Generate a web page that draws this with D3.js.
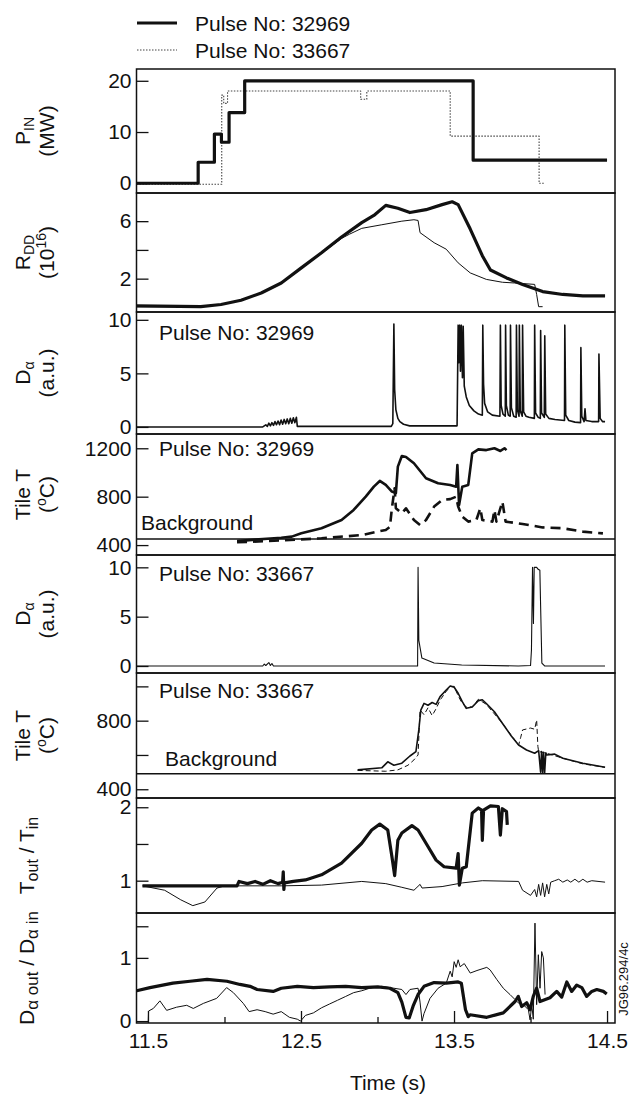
<!DOCTYPE html>
<html lang="en">
<head>
<meta charset="UTF-8">
<title>Pulse 32969 / 33667 time traces</title>
<script src="https://d3js.org/d3.v7.min.js"></script>
<style>
  body { margin: 0; background: #fff; }
  svg text { font-family: "Liberation Sans", Arial, Helvetica, sans-serif; fill: #111; }
</style>
</head>
<body>
<div id="chart"></div>
<script>
// ---- data (time in s, value) ----
const timeTicks = [11.5, 12.5, 13.5, 14.5];
const timeMinorTicks = [12.0, 13.0, 14.0];

const pin32969 = [[11.425,0],[11.828,4.1],[11.934,9.6],[11.98,8.0],[12.03,13.8],[12.132,20],[13.625,4.5],[14.5,4.5]];
const pin33667 = [[11.425,-0.2],[11.982,17.2],[11.995,15.6],[12.02,18.0],[12.89,16.4],[12.93,18.0],[13.475,9.2],[14.056,0],[14.095,0]];

const rdd32969 = [[11.425,0.1],[11.845,0.05],[11.977,0.2],[12.108,0.5],[12.24,1.0],[12.371,1.7],[12.502,2.75],[12.634,3.8],[12.765,4.9],[12.897,5.9],[12.976,6.4],[13.054,7.1],[13.133,6.9],[13.212,6.6],[13.317,6.8],[13.422,7.15],[13.488,7.35],[13.527,7.15],[13.606,5.45],[13.685,3.6],[13.738,2.6],[13.843,2.05],[13.948,1.6],[14.079,1.1],[14.211,0.9],[14.342,0.8],[14.487,0.8]];
const rdd33667 = [[11.425,0.05],[11.845,0.05],[11.977,0.2],[12.108,0.5],[12.24,1.0],[12.371,1.65],[12.502,2.7],[12.634,3.75],[12.765,4.8],[12.818,5.1],[12.897,5.5],[13.028,5.75],[13.159,6.0],[13.238,6.1],[13.265,6.05],[13.278,5.2],[13.37,4.5],[13.449,4.05],[13.527,3.1],[13.606,2.4],[13.711,1.95],[13.816,1.75],[13.895,1.7],[14.027,1.6],[14.04,0.9],[14.053,0.05],[14.079,0.05]];

const da32969 = [[11.425,0],[12.25,0],[12.27,0.2],[12.28,0.05],[12.29,0.35],[12.3,0.1],[12.31,0.4],[12.32,0.15],[12.33,0.5],[12.34,0.2],[12.35,0.55],[12.36,0.2],[12.37,0.65],[12.38,0.25],[12.39,0.7],[12.4,0.3],[12.41,0.75],[12.42,0.3],[12.43,0.8],[12.44,0.35],[12.45,0.85],[12.46,0.4],[12.47,0.9],[12.476,0.05],[13.09,0.05],[13.1,0.3],[13.107,9.6],[13.112,3.5],[13.12,1.6],[13.133,0.8],[13.146,0.5],[13.17,0.25],[13.21,0.1],[13.52,0.1],[13.527,9.5],[13.532,6],[13.537,9.5],[13.542,5.2],[13.548,9.5],[13.555,4.6],[13.56,9.4],[13.567,3.8],[13.58,2.8],[13.6,2.0],[13.63,1.5],[13.66,1.2],[13.685,1.1],[13.688,9.5],[13.693,4],[13.7,2.2],[13.72,1.4],[13.75,1.1],[13.8,1.0],[13.803,9.5],[13.808,2],[13.82,1.2],[13.835,1.0],[13.837,9.5],[13.842,2],[13.855,1.1],[13.867,1.0],[13.869,9.5],[13.875,1.8],[13.89,1.0],[13.906,0.9],[13.908,9.5],[13.914,1.6],[13.925,1.0],[13.927,9.5],[13.933,1.5],[13.946,1.0],[13.948,9.5],[13.955,1.4],[13.97,1.0],[13.99,0.9],[14.025,0.8],[14.027,9.5],[14.033,1.3],[14.05,0.9],[14.064,0.8],[14.066,9.0],[14.072,1.3],[14.09,0.9],[14.093,8.5],[14.099,1.2],[14.12,0.8],[14.16,0.7],[14.222,0.6],[14.224,9.5],[14.23,1.1],[14.25,0.6],[14.29,0.45],[14.327,0.4],[14.329,7.4],[14.335,1.0],[14.35,0.5],[14.356,1.7],[14.362,0.6],[14.4,0.5],[14.445,0.5],[14.447,6.8],[14.455,0.8],[14.47,0.5],[14.487,0.5]];

const tile32969 = [[12.082,433],[12.2,445],[12.3,455],[12.371,460],[12.44,470],[12.502,497],[12.634,539],[12.765,607],[12.844,690],[12.923,800],[12.976,883],[13.015,930],[13.054,897],[13.094,842],[13.12,830],[13.133,1048],[13.159,1136],[13.186,1128],[13.238,1076],[13.317,952],[13.396,911],[13.475,897],[13.514,883],[13.522,1062],[13.533,731],[13.554,883],[13.593,897],[13.619,1158],[13.659,1191],[13.711,1185],[13.764,1200],[13.803,1178],[13.83,1200],[13.843,1185]];
const tileBg32969 = [[12.082,423],[12.371,438],[12.634,456],[12.897,483],[13.054,525],[13.081,550],[13.094,704],[13.112,870],[13.12,704],[13.159,663],[13.186,704],[13.238,607],[13.278,566],[13.317,607],[13.37,718],[13.422,773],[13.475,780],[13.514,800],[13.527,718],[13.554,635],[13.593,594],[13.646,607],[13.672,704],[13.685,607],[13.751,594],[13.764,690],[13.777,594],[13.816,759],[13.837,594],[13.948,574],[14.079,546],[14.211,539],[14.342,511],[14.473,497]];
const bgLevel32969 = 450;

const da33667 = [[11.425,0],[12.25,0],[12.26,0.2],[12.27,0.05],[12.29,0.35],[12.3,0.05],[12.31,0.25],[12.32,0],[13.262,0],[13.265,10],[13.27,2.6],[13.29,0.8],[13.37,0.3],[13.55,0.1],[13.92,0],[14.0,0.05],[14.006,1.6],[14.013,10],[14.019,4.3],[14.024,10],[14.04,10],[14.05,9.8],[14.061,9.7],[14.066,6],[14.074,0.3],[14.092,0],[14.487,0]];

const tile33667 = [[12.87,513],[13.028,525],[13.067,560],[13.107,540],[13.159,552],[13.212,594],[13.251,619],[13.27,746],[13.283,862],[13.304,901],[13.33,890],[13.357,906],[13.383,895],[13.409,940],[13.449,979],[13.475,1002],[13.501,995],[13.527,960],[13.554,911],[13.58,872],[13.619,880],[13.659,917],[13.685,922],[13.711,900],[13.764,852],[13.816,785],[13.869,717],[13.922,658],[13.974,629],[14.027,610],[14.053,625],[14.066,500],[14.072,620],[14.079,497],[14.085,615],[14.092,495],[14.1,612],[14.106,600],[14.158,605],[14.211,581],[14.342,552],[14.487,528]];
const tileBg33667 = [[12.87,510],[13.054,505],[13.133,513],[13.199,540],[13.238,571],[13.265,600],[13.278,862],[13.304,835],[13.33,875],[13.357,830],[13.383,870],[13.409,920],[13.449,970],[13.475,1000],[13.501,1000],[13.527,945],[13.554,900],[13.58,880],[13.619,880],[13.659,925],[13.711,895],[13.816,785],[13.922,658],[13.935,700],[13.948,746],[14.0,757],[14.027,750],[14.04,804],[14.048,650],[14.053,620],[14.106,610],[14.211,581],[14.342,548],[14.487,528]];
const bgLevel33667 = 490;

const tRatio32969 = [[11.464,0.93],[12.082,0.93],[12.095,0.99],[12.15,0.96],[12.2,0.99],[12.25,0.95],[12.3,1.0],[12.35,0.96],[12.38,0.98],[12.384,1.12],[12.388,0.88],[12.392,0.97],[12.45,0.99],[12.529,1.01],[12.634,1.08],[12.765,1.24],[12.897,1.51],[12.962,1.69],[13.015,1.77],[13.067,1.69],[13.094,1.33],[13.112,1.07],[13.133,1.55],[13.159,1.65],[13.225,1.75],[13.265,1.69],[13.317,1.51],[13.383,1.28],[13.435,1.19],[13.514,1.17],[13.527,1.37],[13.535,0.94],[13.554,1.17],[13.58,1.19],[13.619,1.92],[13.659,1.99],[13.68,1.96],[13.685,1.55],[13.693,1.96],[13.738,2.02],[13.79,2.01],[13.803,1.62],[13.816,1.98],[13.843,1.94],[13.848,1.76]];
const tRatio33667 = [[11.464,0.93],[11.609,0.87],[11.714,0.74],[11.793,0.66],[11.872,0.71],[11.951,0.9],[12.003,0.93],[12.371,0.93],[12.634,0.94],[12.897,0.99],[13.054,0.96],[13.159,0.91],[13.238,0.87],[13.278,0.95],[13.291,0.9],[13.422,0.92],[13.554,0.97],[13.685,1.0],[13.922,0.99],[13.948,0.87],[14.0,0.8],[14.027,0.88],[14.04,0.78],[14.053,0.95],[14.066,0.8],[14.079,0.97],[14.092,0.78],[14.106,0.95],[14.119,0.82],[14.132,0.98],[14.158,1.0],[14.184,1.02],[14.211,0.98],[14.24,1.01],[14.263,0.98],[14.29,1.02],[14.316,0.98],[14.342,1.02],[14.37,0.98],[14.4,1.0],[14.487,0.98]];

const daRatio32969 = [[11.426,0.48],[11.513,0.53],[11.663,0.6],[11.775,0.63],[11.886,0.66],[12.016,0.63],[12.101,0.58],[12.167,0.55],[12.213,0.5],[12.318,0.47],[12.371,0.52],[12.476,0.55],[12.581,0.53],[12.686,0.54],[12.792,0.55],[12.897,0.53],[13.002,0.54],[13.081,0.52],[13.133,0.45],[13.159,0.3],[13.186,0.06],[13.207,0.05],[13.233,0.24],[13.265,0.42],[13.304,0.55],[13.37,0.61],[13.449,0.6],[13.527,0.62],[13.548,0.6],[13.575,0.18],[13.593,0.07],[13.605,0.1],[13.714,0.06],[13.822,0.13],[13.899,0.31],[13.92,0.39],[13.942,0.23],[13.975,0.29],[13.997,0.18],[14.018,0.39],[14.04,0.52],[14.062,0.31],[14.127,0.37],[14.171,0.47],[14.204,0.38],[14.237,0.62],[14.269,0.47],[14.302,0.57],[14.335,0.53],[14.367,0.39],[14.4,0.47],[14.433,0.5],[14.476,0.47],[14.498,0.43]];
const daRatio33667 = [[11.502,0],[11.504,0.16],[11.535,0.2],[11.578,0.32],[11.622,0.17],[11.687,0.22],[11.753,0.25],[11.796,0.2],[11.862,0.28],[11.949,0.36],[12.014,0.53],[12.058,0.45],[12.123,0.28],[12.161,0.15],[12.213,0.18],[12.266,0.15],[12.318,0.11],[12.371,0.15],[12.424,0.06],[12.476,0.03],[12.497,0],[12.529,0.09],[12.581,0.13],[12.634,0.21],[12.686,0.27],[12.739,0.33],[12.792,0.39],[12.844,0.45],[12.897,0.48],[12.949,0.52],[13.028,0.55],[13.107,0.52],[13.159,0.5],[13.186,0.42],[13.212,0.5],[13.265,0.52],[13.278,0.3],[13.291,0],[13.304,0.12],[13.343,0.36],[13.396,0.52],[13.449,0.6],[13.475,0.79],[13.488,0.7],[13.501,0.94],[13.514,0.85],[13.527,0.97],[13.54,0.86],[13.567,0.91],[13.606,0.76],[13.65,0.8],[13.714,0.85],[13.736,0.81],[13.779,0.66],[13.822,0.52],[13.866,0.42],[13.899,0.34],[13.92,0.29],[13.953,0.26],[13.986,0.18],[13.997,0.02],[14.008,0.26],[14.018,0.03],[14.029,1.55],[14.04,0.26],[14.051,1.05],[14.062,0.52],[14.073,1.1],[14.084,1.0],[14.095,0.42]];

// ---- layout ----
const W = 631, H = 1098;
const svg = d3.select("#chart").append("svg")
    .attr("width", W)
    .attr("height", H);

const x = d3.scaleLinear().domain([11.425, 14.552]).range([136.5, 615]);

// one entry per stacked panel
const panels = [
    { top: 69,  bottom: 193,  domain: [-1.9, 22.3],  ticks: [0, 10, 20], labels: [0, 10, 20] },
    { top: 193, bottom: 312,  domain: [-0.32, 7.96], ticks: [2, 4, 6], labels: [2, 6] },
    { top: 312, bottom: 434,  domain: [-0.66, 10.73], ticks: [0, 5, 10], labels: [0, 5, 10] },
    { top: 434, bottom: 555,  domain: [318, 1318],   ticks: [400, 800, 1200], labels: [400, 800, 1200] },
    { top: 555, bottom: 673,  domain: [-0.71, 11.25], ticks: [0, 5, 10], labels: [0, 5, 10] },
    { top: 673, bottom: 798,  domain: [349, 1078],   ticks: [400, 600, 800, 1000], labels: [400, 800] },
    { top: 798, bottom: 913,  domain: [0.56, 2.126], ticks: [1, 1.5, 2], labels: [1, 2] },
    { top: 913, bottom: 1023, domain: [-0.03, 1.71], ticks: [0, 1, 1.5], labels: [0, 1] }
];

const defs = svg.append("defs");
panels.forEach((p, i) => {
    p.y = d3.scaleLinear().domain(p.domain).range([p.bottom, p.top]);
    defs.append("clipPath").attr("id", `clip-${i}`)
        .append("rect")
        .attr("x", x.range()[0]).attr("y", p.top)
        .attr("width", x.range()[1] - x.range()[0]).attr("height", p.bottom - p.top);

    // y ticks pointing inward
    const ax = svg.append("g")
        .attr("transform", `translate(${x.range()[0]},0)`)
        .call(d3.axisLeft(p.y)
            .tickValues(p.ticks)
            .tickSizeInner(-12)
            .tickSizeOuter(0)
            .tickPadding(5)
            .tickFormat(d => p.labels.includes(d) ? d : ""));
    ax.select(".domain").remove();
    ax.selectAll("line").attr("stroke", "#111").attr("stroke-width", 1.3);
    ax.selectAll("text").attr("font-size", 21).attr("fill", "#111")
        .style("font-family", "'Liberation Sans', Arial, sans-serif");
});

function drawLine(i, data, opts) {
    const p = panels[i];
    const line = d3.line()
        .x(d => x(d[0]))
        .y(d => p.y(d[1]))
        .curve(opts.step ? d3.curveStepAfter : d3.curveLinear);
    svg.append("path")
        .datum(data)
        .attr("clip-path", `url(#clip-${i})`)
        .attr("d", line)
        .attr("fill", "none")
        .attr("stroke", opts.color || "#111")
        .attr("stroke-width", opts.width)
        .attr("stroke-linejoin", "round")
        .attr("stroke-dasharray", opts.dash || null);
}

function bgLine(i, level) {
    const p = panels[i];
    svg.append("line")
        .attr("x1", x.range()[0]).attr("x2", x.range()[1])
        .attr("y1", p.y(level)).attr("y2", p.y(level))
        .attr("stroke", "#111").attr("stroke-width", 1.4);
}

// P_IN
drawLine(0, pin33667, { width: 1.1, dash: "1.5,1.5", color: "#444", step: true });
drawLine(0, pin32969, { width: 3.2, step: true });
// R_DD
drawLine(1, rdd33667, { width: 1 });
drawLine(1, rdd32969, { width: 3.2 });
// D alpha 32969
drawLine(2, da32969, { width: 1.6 });
// Tile T 32969
bgLine(3, bgLevel32969);
drawLine(3, tileBg32969, { width: 2.6, dash: "10,6" });
drawLine(3, tile32969, { width: 2.6 });
// D alpha 33667
drawLine(4, da33667, { width: 1.1 });
// Tile T 33667
bgLine(5, bgLevel33667);
drawLine(5, tileBg33667, { width: 1, dash: "5,3" });
drawLine(5, tile33667, { width: 1.6 });
// Tout / Tin
drawLine(6, tRatio33667, { width: 1 });
drawLine(6, tRatio32969, { width: 3.2 });
// D alpha out / in
drawLine(7, daRatio33667, { width: 1 });
drawLine(7, daRatio32969, { width: 3.2 });

// panel frames
panels.forEach(p => {
    svg.append("rect")
        .attr("x", x.range()[0]).attr("y", p.top)
        .attr("width", x.range()[1] - x.range()[0]).attr("height", p.bottom - p.top)
        .attr("fill", "none").attr("stroke", "#111").attr("stroke-width", 1.5);
});

// time axis along the bottom panel
const last = panels[panels.length - 1];
const minorAx = svg.append("g")
    .attr("transform", `translate(0,${last.bottom})`)
    .call(d3.axisBottom(x).tickValues(timeMinorTicks).tickSizeInner(-6).tickSizeOuter(0).tickFormat(""));
minorAx.select(".domain").remove();
minorAx.selectAll("line").attr("stroke", "#111").attr("stroke-width", 1.3);

const timeAx = svg.append("g")
    .attr("transform", `translate(0,${last.bottom})`)
    .call(d3.axisBottom(x).tickValues(timeTicks).tickSizeInner(-12).tickSizeOuter(0)
        .tickPadding(10).tickFormat(d3.format(".1f")));
timeAx.select(".domain").remove();
timeAx.selectAll("line").attr("stroke", "#111").attr("stroke-width", 1.3);
timeAx.selectAll("text").attr("font-size", 21).attr("fill", "#111")
    .style("font-family", "'Liberation Sans', Arial, sans-serif");

svg.append("text")
    .attr("x", 388).attr("y", 1090)
    .attr("text-anchor", "middle")
    .attr("font-size", 21)
    .text("Time (s)");

// y titles (rotated, subscripts via tspans)
function yTitle(i, lines) {
    const p = panels[i];
    const cy = (p.top + p.bottom) / 2;
    lines.forEach((parts, k) => {
        const bx = lines.length === 1 ? 34 : (k === 0 ? 30 : 54);
        const t = svg.append("text")
            .attr("transform", `translate(${bx},${cy}) rotate(-90)`)
            .attr("text-anchor", "middle")
            .attr("font-size", 21);
        parts.forEach(part => {
            const s = t.append("tspan").text(part.t);
            if (part.sub) s.attr("font-size", part.size || 14).attr("dy", 4);
            if (part.sup) s.attr("font-size", 14).attr("dy", -8);
            if (part.back) s.attr("dy", part.back);
        });
    });
}

yTitle(0, [[{ t: "P" }, { t: "IN", sub: true }], [{ t: "(MW)" }]]);
yTitle(1, [[{ t: "R" }, { t: "DD", sub: true }], [{ t: "(10" }, { t: "16", sup: true }, { t: ")", back: 8 }]]);
yTitle(2, [[{ t: "D" }, { t: "α", sub: true }], [{ t: "(a.u.)" }]]);
yTitle(3, [[{ t: "Tile T" }], [{ t: "(" }, { t: "o", sup: true }, { t: "C)", back: 8 }]]);
yTitle(4, [[{ t: "D" }, { t: "α", sub: true }], [{ t: "(a.u.)" }]]);
yTitle(5, [[{ t: "Tile T" }], [{ t: "(" }, { t: "o", sup: true }, { t: "C)", back: 8 }]]);
yTitle(6, [[{ t: "T" }, { t: "out", sub: true, size: 16 }, { t: " / T", back: -4 }, { t: "in", sub: true, size: 16 }]]);
yTitle(7, [[{ t: "D" }, { t: "α out", sub: true, size: 17 }, { t: " / D", back: -4 }, { t: "α in", sub: true, size: 17 }]]);

// in-panel annotations
const notes = [
    { text: "Pulse No: 32969", x: 159, y: 340 },
    { text: "Pulse No: 32969", x: 159, y: 456 },
    { text: "Background", x: 141, y: 530 },
    { text: "Pulse No: 33667", x: 159, y: 581 },
    { text: "Pulse No: 33667", x: 159, y: 698 },
    { text: "Background", x: 165, y: 766 }
];
svg.selectAll("text.note")
    .data(notes)
    .enter()
    .append("text")
    .attr("class", "note")
    .attr("x", d => d.x).attr("y", d => d.y)
    .attr("font-size", 21)
    .text(d => d.text);

// legend
const legend = [
    { label: "Pulse No: 32969", width: 3.2, dash: null, color: "#111" },
    { label: "Pulse No: 33667", width: 1.1, dash: "1.5,1.5", color: "#444" }
];
legend.forEach((d, i) => {
    const ly = 23 + i * 27;
    svg.append("line")
        .attr("x1", 137).attr("x2", 177).attr("y1", ly).attr("y2", ly)
        .attr("stroke", d.color).attr("stroke-width", d.width)
        .attr("stroke-dasharray", d.dash);
    svg.append("text")
        .attr("x", 195).attr("y", ly + 8)
        .attr("font-size", 21)
        .text(d.label);
});

// figure reference code
svg.append("text")
    .attr("transform", "translate(628,979) rotate(-90)")
    .attr("text-anchor", "middle")
    .attr("font-size", 13)
    .text("JG96.294/4c");
</script>
</body>
</html>
